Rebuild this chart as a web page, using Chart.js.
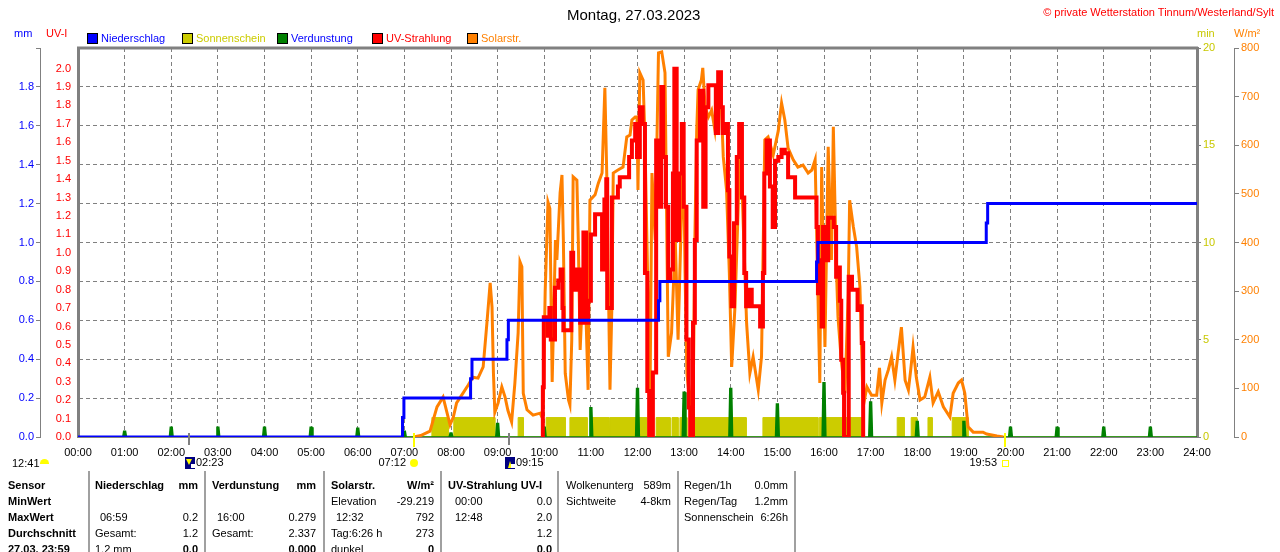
<!DOCTYPE html>
<html>
<head>
<meta charset="utf-8">
<script src="https://cdn.jsdelivr.net/npm/chart.js@4.4.0/dist/chart.umd.min.js"></script>
<style>
body{margin:0;background:#fff}
#wrap{position:relative;width:1280px;height:552px;overflow:hidden;background:#fff;font-family:"Liberation Sans",Arial,sans-serif;font-size:11px}
.t{position:absolute;white-space:nowrap;line-height:14px;color:#000}
.sq{position:absolute;width:9px;height:9px;border:1px solid #000}
.sep{position:absolute;top:471px;width:2px;height:90px;background:#a0a0a0}
</style>
</head>
<body>
<div id="wrap">
<canvas id="chart" width="1280" height="552"></canvas>
</div>
<script>

// time in hours
const hours=[0,1,2,3,4,5,6,7,8,9,10,11,12,13,14,15,16,17,18,19,20,21,22,23,24]

// Niederschlag, cumulative mm
const rainT=[0,6.95,6.96,6.99,8.40,8.42,8.45,9.18,9.20,9.23,12.43,12.45,12.48,15.82,15.84,15.87,19.46,19.48,19.51,24]
const rainV=[0,0,0.1,0.2,0.2,0.3,0.4,0.4,0.5,0.6,0.6,0.7,0.8,0.8,0.9,1.0,1.0,1.1,1.2,1.2]

// Verdunstung per hour, mm
const evapH=[1,2,3,4,5,6,7,8,9,10,11,12,13,14,15,16,17,18,19,20,21,22,23]
const evapV=[0.03,0.05,0.05,0.05,0.05,0.045,0.03,0.02,0.07,0.05,0.15,0.25,0.23,0.25,0.17,0.279,0.18,0.08,0.08,0.05,0.05,0.05,0.05]

// Sonnenschein, minutes of sun per minute, in intervals [start,end] hours
const sunOn=[[7.59,7.94],[8.06,8.94],[9.44,9.55],[10.04,10.45],[10.55,10.92],[11.02,11.39],[11.41,12.20],[12.40,12.70],[12.74,12.87],[12.91,13.06],[13.21,13.97],[14.05,14.33],[14.69,15.87],[15.90,16.84],[17.57,17.72],[17.87,17.99],[18.23,18.32],[18.75,19.09]]
const sunMin=1

// Solarstrahlung W/m2
const solarT=[7.20,7.35,7.55,7.70,7.83,7.98,8.05,8.12,8.23,8.37,8.47,8.58,8.69,8.77,8.84,8.88,8.91,8.94,9.01,9.09,9.16,9.22,9.30,9.37,9.44,9.48,9.52,9.55,9.63,9.76,9.91,9.95,9.98,
10.02,10.08,10.12,10.17,10.24,10.27,10.34,10.38,10.41,10.45,10.52,10.55,10.59,10.62,10.70,10.73,10.77,10.80,10.87,10.94,10.98,
11.09,11.16,11.24,11.30,11.34,11.41,11.45,11.48,11.58,11.69,11.77,11.84,11.88,11.95,11.99,
12.01,12.05,12.12,12.16,12.23,12.27,12.31,12.38,12.45,12.52,12.59,12.63,12.66,12.73,12.81,12.87,12.95,12.98,
13.02,13.06,13.13,13.20,13.23,13.27,13.30,13.37,13.40,13.45,13.52,13.59,13.66,13.73,13.77,13.84,13.91,13.97,
14.02,14.09,14.16,14.20,14.27,14.34,14.41,14.48,14.59,14.66,14.73,14.80,14.91,
15.02,15.09,15.16,15.23,15.34,15.44,15.55,15.66,15.74,15.81,15.84,15.91,15.95,
16.02,16.09,16.16,16.20,16.26,16.30,16.37,16.45,16.52,16.55,16.63,16.70,16.77,16.81,16.84,16.92,
17.02,17.13,17.19,17.24,17.31,17.38,17.45,17.52,17.59,17.66,17.74,17.81,17.86,17.91,17.98,
18.06,18.16,18.27,18.34,18.45,18.56,18.70,18.77,18.88,18.95,19.02,19.09,19.20,19.41,19.49,19.71,19.85]
const solarV=[0,3,12,62,82,25,41,70,86,107,123,121,144,234,317,267,132,51,70,103,82,55,31,111,214,360,350,90,56,45,49,41,76,
300,483,470,113,405,364,502,539,405,131,76,66,200,535,528,405,179,247,337,97,487,
498,522,543,718,543,97,267,543,549,555,617,621,652,658,658,
508,749,734,611,267,97,543,405,790,792,749,405,165,214,405,200,487,625,
337,131,62,131,405,631,714,734,759,679,658,672,631,714,749,576,508,337,
144,267,473,638,432,234,131,165,97,165,611,617,580,
630,687,652,594,570,555,559,543,549,570,432,111,555,
185,597,364,638,364,247,158,90,296,487,432,391,309,173,62,103,
86,86,142,70,117,138,165,117,173,226,117,97,138,185,123,
76,82,123,70,93,62,41,90,111,117,90,21,10,10,6,2,0]

// UV-Index
const uvT=[9.96,9.97,9.99,10.05,10.08,10.11,10.14,10.23,10.30,10.35,10.39,10.41,10.55,10.58,10.62,10.70,10.77,10.84,10.90,10.94,
11.00,11.09,11.16,11.24,11.29,11.33,11.35,11.41,11.45,11.58,11.62,11.77,11.82,11.88,11.95,11.99,
12.05,12.11,12.16,12.21,12.25,12.30,12.33,12.40,12.45,12.51,12.55,12.61,12.66,12.70,12.76,12.79,12.84,12.89,12.95,12.99,
13.05,13.10,13.13,13.16,13.19,13.23,13.27,13.34,13.41,13.46,13.52,13.63,13.68,13.73,13.79,13.83,13.88,13.94,13.97,
14.02,14.07,14.13,14.18,14.24,14.29,14.33,14.38,14.45,14.56,14.63,14.69,14.72,14.77,14.84,14.90,14.95,
15.02,15.09,15.16,15.23,15.31,15.38,15.81,15.84,15.87,15.91,15.95,15.98,
16.04,16.09,16.16,16.21,16.26,16.30,16.34,16.37,16.41,16.43,16.50,16.53,16.60,16.67,16.72,16.76,16.81,16.84]
const uvV=[0,0.27,0.65,0.65,0.55,0.7,0.53,0.81,0.85,0.91,0.7,0.58,0.58,1.0,0.8,0.91,0.62,1.11,0.62,0.74,
1.1,1.21,1.21,0.91,1.29,1.4,0.7,0.7,1.3,1.36,1.41,1.41,1.52,1.61,1.7,1.52,
1.79,1.7,0.89,0.25,0,0,0.35,1.61,1.25,1.9,1.52,1.25,0.85,0.91,1.43,2.0,1.07,1.43,1.7,1.25,
0.53,0.16,0,0,0.62,1.07,1.61,1.88,1.25,1.79,1.91,1.91,1.65,1.98,1.79,1.65,1.7,1.34,0.98,
0.71,1.16,1.52,1.7,1.3,0.89,0.71,0.8,0.71,0.71,0.6,0.89,1.43,1.61,1.36,1.14,1.5,
1.52,1.56,1.54,1.41,1.41,1.3,1.3,1.14,0.78,0.96,0.6,1.14,
0.96,1.19,1.19,1.14,0.87,0.92,0.74,0.42,0.24,0,0,0.87,0.8,0.8,0.69,0.71,0.51,0]

// sun / moon times below the axis
const sunMarks=['07:12','19:53']
const moonMarks=['02:23','09:15']

function toH(s){const p=s.split(':');return +p[0]+p[1]/60}
function pts(t,v){return t.map((x,i)=>({x:x,y:v[i]}))}

const evapPts=[{x:0,y:0}]
evapH.forEach((h,i)=>{
evapPts.push({x:h-0.04,y:0},{x:h-0.02,y:evapV[i]},{x:h+0.02,y:evapV[i]},{x:h+0.04,y:0})
})
evapPts.push({x:24,y:0})

const sunPts=[{x:0,y:0}]
sunOn.forEach(s=>{
sunPts.push({x:s[0],y:0},{x:s[0],y:sunMin},{x:s[1],y:sunMin},{x:s[1],y:0})
})
sunPts.push({x:24,y:0})

const GRAY="#808080"
Chart.defaults.font.family="'Liberation Sans', Arial, sans-serif"
Chart.defaults.font.size=11

const frame={
id:"frame",
beforeDatasetsDraw(chart){
const a=chart.chartArea,c=chart.ctx
c.save()
c.strokeStyle=GRAY
c.lineWidth=3
c.beginPath()
c.moveTo(a.left-1,a.top)
c.lineTo(a.right+1,a.top)
c.stroke()
c.restore()
},
afterDraw(chart){
const c=chart.ctx,x=chart.scales.x,b=chart.chartArea.bottom
c.save()
c.font="11px 'Liberation Sans', Arial"
c.textBaseline="middle"
moonMarks.forEach((m,i)=>{
const px=Math.round(x.getPixelForValue(toH(m)))
c.fillStyle=GRAY
c.fillRect(px-1,b-4,2,12)
c.fillStyle="#000080"
c.fillRect(px-4,457,10,12)
c.fillStyle="#ffff00"
c.beginPath()
if(i==0){c.moveTo(px-3,459);c.lineTo(px+3,459);c.lineTo(px,465)}
else{c.moveTo(px-1,468);c.lineTo(px+3,468);c.lineTo(px+1,461)}
c.fill()
c.fillStyle="#fff"
c.fillRect(px+2,464,4,4)
c.fillStyle="#000"
c.textAlign="left"
c.fillText(m,px+7,463)
})
sunMarks.forEach((m,i)=>{
const px=Math.round(x.getPixelForValue(toH(m)))
c.fillStyle="#ffff00"
c.fillRect(px-1,b-4,2,14)
c.fillStyle="#000"
c.textAlign="right"
c.fillText(m,px-8,463)
if(i==0){
c.fillStyle="#ffff00"
c.beginPath();c.arc(px,463,4,0,Math.PI*2);c.fill()
}else{
c.strokeStyle="#ffff00";c.lineWidth=1
c.strokeRect(px-2.5,460.5,6,6)
}
})
c.restore()
}
}

new Chart(document.getElementById("chart"),{
type:"line",
data:{datasets:[
{label:"Niederschlag",data:pts(rainT,rainV),yAxisID:"yMm",borderColor:"#0000ff",borderWidth:3,stepped:true,fill:false},
{label:"UV-Strahlung",data:pts(uvT,uvV),yAxisID:"yUV",borderColor:"#ff0000",borderWidth:4,stepped:true,fill:false},
{label:"Solarstr.",data:pts(solarT,solarV),yAxisID:"yW",borderColor:"#ff8000",borderWidth:3,fill:false},
{label:"Verdunstung",data:evapPts,yAxisID:"yMm",borderColor:"#008000",backgroundColor:"#008000",borderWidth:1.5,fill:"origin"},
{label:"Sonnenschein",data:sunPts,yAxisID:"yMin",borderColor:"#cccc00",backgroundColor:"#cccc00",borderWidth:1,fill:"origin"}
]},
options:{
responsive:false,
animation:false,
layout:{padding:{top:48,bottom:85,left:0,right:0}},
elements:{point:{radius:0},line:{tension:0}},
plugins:{legend:{display:false},tooltip:{enabled:false}},
scales:{
x:{type:"linear",min:0,max:24,
afterFit:s=>{s.height=30},
ticks:{stepSize:1,autoSkip:false,maxRotation:0,color:"#000",padding:9,
callback:v=>String(v).padStart(2,"0")+":00"},
afterBuildTicks:s=>{s.ticks=hours.map(h=>({value:h}))},
grid:{color:GRAY,lineWidth:1,drawTicks:false},
border:{color:GRAY,width:1,dash:[4,3]}},
yUV:{position:"left",min:0,max:2.112,weight:0,
afterFit:s=>{s.width=38},
ticks:{stepSize:0.1,includeBounds:false,color:"#ff0000",padding:7,
callback:v=>v>2.05?"":v.toFixed(1)},
grid:{display:false,drawTicks:false},
border:{color:GRAY,width:3}},
yMm:{position:"left",min:0,max:2,weight:1,
afterFit:s=>{s.width=40},
ticks:{stepSize:0.2,color:"#0000ff",padding:2,
callback:v=>v>1.9?"":v.toFixed(1)},
grid:{color:GRAY,lineWidth:1,tickLength:4,tickColor:GRAY},
border:{color:GRAY,width:1,dash:[4,3]}},
yMin:{position:"right",min:0,max:20,weight:0,
afterFit:s=>{s.width=37},
ticks:{stepSize:5,color:"#c8c800",padding:2},
grid:{drawOnChartArea:false,tickLength:4,color:GRAY},
border:{color:GRAY,width:3}},
yW:{position:"right",min:0,max:800,weight:1,
afterFit:s=>{s.width=46},
ticks:{stepSize:100,color:"#ff8000",padding:2},
grid:{drawOnChartArea:false,tickLength:5,color:GRAY},
border:{color:GRAY,width:1}}
}
},
plugins:[frame]
})

// texts round the chart
const wrap=document.getElementById("wrap")
function put(x,y,txt,o){
o=o||{}
const d=document.createElement("div")
d.className="t"
d.textContent=txt
d.style.top=(y-7)+"px"
if(o.r)d.style.right=(1280-x)+"px"
else d.style.left=x+"px"
if(o.b)d.style.fontWeight="bold"
if(o.c)d.style.color=o.c
if(o.s)d.style.fontSize=o.s+"px"
wrap.appendChild(d)
return d
}

put(567,15,"Montag, 27.03.2023",{s:15})
put(1274,12,"© private Wetterstation Tinnum/Westerland/Sylt",{r:1,c:"#ff0000"})
put(14,33,"mm",{c:"#0000ff"})
put(46,33,"UV-I",{c:"#ff0000"})
put(1197,33,"min",{c:"#c8c800"})
put(1234,33,"W/m²",{c:"#ff8000"})

const legendNames=["Niederschlag","Sonnenschein","Verdunstung","UV-Strahlung","Solarstr."]
const legendBox=["#0000ff","#cccc00","#008000","#ff0000","#ff8000"]
const legendText=["#0000ff","#cccc00","#0000ff","#ff0000","#ff8000"]
const legendX=[87,182,277,372,467]
legendNames.forEach((n,i)=>{
const q=document.createElement("div")
q.className="sq"
q.style.left=legendX[i]+"px"
q.style.top="33px"
q.style.background=legendBox[i]
wrap.appendChild(q)
put(legendX[i]+14,38,n,{c:legendText[i]})
})

put(12,463,"12:41")
const half=document.createElement("div")
half.style.cssText="position:absolute;left:40px;top:459px;width:9px;height:5px;background:#ffff00;border-radius:5px 5px 0 0"
wrap.appendChild(half)

// table below the chart
const rowY=[485,501,517,533,549]
const table=[
[8,0,"Sensor",0,1],[8,1,"MinWert",0,1],[8,2,"MaxWert",0,1],[8,3,"Durchschnitt",0,1],[8,4,"27.03. 23:59",0,1],
[95,0,"Niederschlag",0,1],[198,0,"mm",1,1],[100,2,"06:59"],[198,2,"0.2",1],[95,3,"Gesamt:"],[198,3,"1.2",1],[95,4,"1.2 mm"],[198,4,"0.0",1,1],
[212,0,"Verdunstung",0,1],[316,0,"mm",1,1],[217,2,"16:00"],[316,2,"0.279",1],[212,3,"Gesamt:"],[316,3,"2.337",1],[316,4,"0.000",1,1],
[331,0,"Solarstr.",0,1],[434,0,"W/m²",1,1],[331,1,"Elevation"],[434,1,"-29.219",1],[336,2,"12:32"],[434,2,"792",1],[331,3,"Tag:6:26 h"],[434,3,"273",1],[331,4,"dunkel"],[434,4,"0",1,1],
[448,0,"UV-Strahlung UV-I",0,1],[455,1,"00:00"],[552,1,"0.0",1],[455,2,"12:48"],[552,2,"2.0",1],[552,3,"1.2",1],[552,4,"0.0",1,1],
[566,0,"Wolkenunterg"],[671,0,"589m",1],[566,1,"Sichtweite"],[671,1,"4-8km",1],
[684,0,"Regen/1h"],[788,0,"0.0mm",1],[684,1,"Regen/Tag"],[788,1,"1.2mm",1],[684,2,"Sonnenschein"],[788,2,"6:26h",1]
]
table.forEach(r=>put(r[0],rowY[r[1]],r[2],{r:r[3],b:r[4]}))

const sepX=[88,204,323,440,557,677,794]
sepX.forEach(x=>{
const s=document.createElement("div")
s.className="sep"
s.style.left=x+"px"
wrap.appendChild(s)
})

</script>
</body>
</html>
